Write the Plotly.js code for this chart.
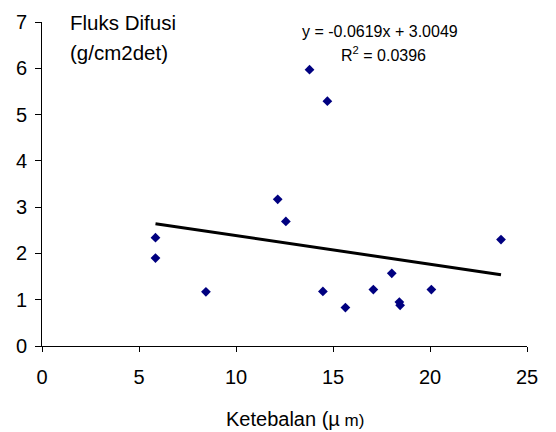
<!DOCTYPE html>
<html>
<head>
<meta charset="utf-8">
<script src="https://cdn.plot.ly/plotly-3.0.1.min.js"></script>
<style>
  html, body { margin: 0; padding: 0; background: #fff; }
  #chart { width: 556px; height: 432px; }
</style>
</head>
<body>
<div id="chart"></div>
<script>
// Thickness (µm) vs diffusion flux measurements
const ketebalan = [5.85, 5.85, 8.45, 12.15, 12.57, 13.79, 14.71, 14.48, 15.64, 17.08, 18.03, 18.42, 18.46, 20.07, 23.66];
const fluks     = [2.34, 1.90, 1.17, 3.17, 2.69, 5.97, 5.29, 1.18, 0.83, 1.22, 1.57, 0.95, 0.88, 1.22, 2.30];

// Linear trendline coefficients
const slope = -0.0619;
const intercept = 3.0049;
const rSquared = 0.0396;

const xTicks = [0, 5, 10, 15, 20, 25];
const yTicks = [0, 1, 2, 3, 4, 5, 6, 7];

const xMin = Math.min(...ketebalan);
const xMax = Math.max(...ketebalan);
const trendX = [xMin, xMax];
const trendY = trendX.map(x => slope * x + intercept);

const font = "Liberation Sans, Arial, sans-serif";

const traces = [
  {
    x: trendX, y: trendY,
    mode: "lines",
    line: { color: "#000000", width: 3 },
    hoverinfo: "skip",
    showlegend: false
  },
  {
    x: ketebalan, y: fluks,
    mode: "markers",
    marker: { symbol: "diamond", size: 7.5, color: "#000080" },
    showlegend: false
  }
];

const layout = {
  width: 556, height: 432,
  margin: { l: 41.7, r: 29, t: 22.3, b: 86.3 },
  paper_bgcolor: "#ffffff",
  plot_bgcolor: "#ffffff",
  font: { family: font, color: "#000000" },
  xaxis: {
    range: [0, 25],
    tickvals: xTicks,
    ticktext: xTicks.map(String),
    showgrid: false, zeroline: false,
    showline: true, linecolor: "#000000", linewidth: 1,
    ticks: "outside", ticklen: 5, tickcolor: "#000000", tickwidth: 1,
    ticklabelstandoff: 8,
    tickfont: { size: 20, family: font, color: "#000000" }
  },
  yaxis: {
    range: [0, 7],
    tickvals: yTicks,
    ticktext: yTicks.map(String),
    showgrid: false, zeroline: false,
    showline: true, linecolor: "#000000", linewidth: 1,
    ticks: "outside", ticklen: 6, tickcolor: "#000000", tickwidth: 1,
    ticklabelstandoff: 4,
    tickfont: { size: 20, family: font, color: "#000000" }
  },
  annotations: [
    {
      // x-axis title, set slightly right of the plot centre
      text: "Ketebalan (µ<span style='font-size:17px'>&nbsp;m)</span>",
      xref: "paper", yref: "paper",
      x: 0.5213, y: -0.2267, xanchor: "center", yanchor: "middle",
      showarrow: false, font: { size: 20, family: font, color: "#000000" }
    },
    {
      text: "Fluks Difusi", xref: "paper", yref: "paper",
      x: 0.054, y: 1.0, xanchor: "left", yanchor: "middle",
      showarrow: false, font: { size: 20.5, family: font, color: "#000000" }
    },
    {
      text: "(g/cm2det)", xref: "paper", yref: "paper",
      x: 0.054, y: 0.906, xanchor: "left", yanchor: "middle",
      showarrow: false, font: { size: 20.5, family: font, color: "#000000" }
    },
    {
      text: "y = " + slope.toFixed(4) + "x + " + intercept.toFixed(4),
      xref: "paper", yref: "paper",
      x: 0.696, y: 0.97, xanchor: "center", yanchor: "middle",
      showarrow: false, font: { size: 16, family: font, color: "#000000" }
    },
    {
      text: "R<sup>2</sup> = " + rSquared.toFixed(4),
      xref: "paper", yref: "paper",
      x: 0.613, y: 0.90, xanchor: "left", yanchor: "middle",
      showarrow: false, font: { size: 16, family: font, color: "#000000" }
    }
  ]
};

Plotly.newPlot("chart", traces, layout, { displayModeBar: false, staticPlot: true });
</script>
</body>
</html>
